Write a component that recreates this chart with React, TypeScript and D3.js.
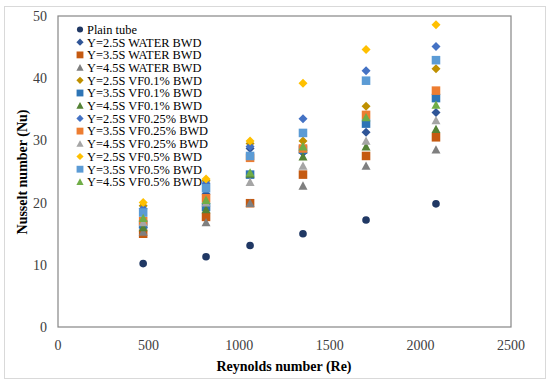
import React, { useRef, useEffect } from 'react';
import * as d3 from 'd3';

const reynolds = [470, 817, 1060, 1352, 1700, 2086];

const seriesNames = [
  'Plain tube',
  'Y=2.5S WATER BWD',
  'Y=3.5S WATER BWD',
  'Y=4.5S WATER BWD',
  'Y=2.5S VF0.1% BWD',
  'Y=3.5S VF0.1% BWD',
  'Y=4.5S VF0.1% BWD',
  'Y=2.5S VF0.25% BWD',
  'Y=3.5S VF0.25% BWD',
  'Y=4.5S VF0.25% BWD',
  'Y=2.5S VF0.5% BWD',
  'Y=3.5S VF0.5% BWD',
  'Y=4.5S VF0.5% BWD',
];

const seriesShapes = ['circle', 'diamond', 'square', 'triangle', 'diamond', 'square', 'triangle',
  'diamond', 'square', 'triangle', 'diamond', 'square', 'triangle'];

const seriesColors = ['#203864', '#2F5597', '#C55A11', '#7F7F7F', '#BF9000', '#2E75B6', '#548235',
  '#4472C4', '#ED7D31', '#A5A5A5', '#FFC000', '#5B9BD5', '#70AD47'];

// Nusselt number per series, one value per Reynolds number
const plainTube = [10.2, 11.3, 13.1, 15.0, 17.2, 19.8];
const y25Water = [16.0, 21.4, 28.7, 28.0, 31.3, 34.5];
const y35Water = [15.0, 17.7, 19.9, 24.5, 27.5, 30.5];
const y45Water = [15.3, 16.8, 19.9, 22.7, 25.9, 28.5];
const y25Vf01 = [19.5, 23.5, 29.5, 29.9, 35.5, 41.5];
const y35Vf01 = [16.5, 19.3, 24.5, 28.5, 32.7, 36.8];
const y45Vf01 = [16.0, 18.9, 24.6, 27.4, 29.0, 31.8];
const y25Vf025 = [19.0, 23.1, 29.0, 33.5, 41.2, 45.1];
const y35Vf025 = [17.0, 20.7, 27.2, 28.7, 34.1, 38.0];
const y45Vf025 = [16.8, 20.0, 23.3, 25.9, 29.9, 33.2];
const y25Vf05 = [20.0, 23.8, 29.9, 39.2, 44.6, 48.6];
const y35Vf05 = [18.4, 22.3, 27.5, 31.2, 39.6, 42.9];
const y45Vf05 = [17.5, 20.4, 24.8, 29.0, 33.7, 35.7];

const seriesValues = [plainTube, y25Water, y35Water, y45Water, y25Vf01, y35Vf01, y45Vf01,
  y25Vf025, y35Vf025, y45Vf025, y25Vf05, y35Vf05, y45Vf05];

const xTicks = [0, 500, 1000, 1500, 2000, 2500];
const yTicks = [0, 10, 20, 30, 40, 50];

const markerPath = (shape: string, s: number) => {
  if (shape === 'diamond') return `M0,${-s}L${s},0L0,${s}L${-s},0Z`;
  if (shape === 'square') { const h = s * 0.95; return `M${-h},${-h}H${h}V${h}H${-h}Z`; }
  if (shape === 'triangle') return `M0,${-s}L${s},${s * 0.85}H${-s}Z`;
  return d3.arc()({ innerRadius: 0, outerRadius: s * 0.85, startAngle: 0, endAngle: 2 * Math.PI }) as string;
};

const App = () => {
  const svgRef = useRef<SVGSVGElement | null>(null);

  useEffect(() => {
    const svg = d3.select(svgRef.current);
    svg.selectAll('*').remove();
    const font = '"Liberation Serif", "Times New Roman", serif';

    const x = d3.scaleLinear().domain([0, 2500]).range([58, 511]);
    const y = d3.scaleLinear().domain([0, 50]).range([327, 16]);

    svg.append('rect').attr('x', 4.5).attr('y', 6.5).attr('width', 541).attr('height', 372)
      .attr('fill', '#fff').attr('stroke', '#D9D9D9');

    svg.append('rect').attr('x', x(0)).attr('y', y(50)).attr('width', x(2500) - x(0))
      .attr('height', y(0) - y(50)).attr('fill', 'none').attr('stroke', '#868686').attr('stroke-width', 1.2);

    svg.append('g').selectAll('text').data(yTicks).enter().append('text')
      .attr('x', 47).attr('y', d => y(d)).attr('dy', '0.35em').attr('text-anchor', 'end')
      .attr('font-family', font).attr('font-size', 14).attr('fill', '#404040').text(d => d);

    svg.append('g').selectAll('text').data(xTicks).enter().append('text')
      .attr('x', d => x(d)).attr('y', 345).attr('dy', '0.35em').attr('text-anchor', 'middle')
      .attr('font-family', font).attr('font-size', 14).attr('fill', '#404040').text(d => d);

    svg.append('text').attr('x', 284).attr('y', 366).attr('dy', '0.35em').attr('text-anchor', 'middle')
      .attr('font-family', font).attr('font-size', 14).attr('font-weight', 'bold').attr('fill', '#000')
      .text('Reynolds number (Re)');

    svg.append('text').attr('transform', `translate(22,172) rotate(-90)`).attr('dy', '0.35em')
      .attr('text-anchor', 'middle').attr('font-family', font).attr('font-size', 14)
      .attr('font-weight', 'bold').attr('fill', '#000').text('Nusselt number (Nu)');

    // legend
    const legend = svg.append('g');
    seriesNames.forEach((name, i) => {
      const ly = 29.5 + i * 12.7;
      legend.append('path').attr('d', markerPath(seriesShapes[i], 3.6))
        .attr('transform', `translate(80,${ly})`).attr('fill', seriesColors[i]);
      legend.append('text').attr('x', 87).attr('y', ly).attr('dy', '0.35em')
        .attr('font-family', font).attr('font-size', 12.4).attr('fill', '#000').text(name);
    });

    // points
    seriesValues.forEach((vals, i) => {
      svg.append('g').selectAll('path').data(vals).enter().append('path')
        .attr('d', markerPath(seriesShapes[i], 4.5))
        .attr('transform', (d, j) => `translate(${x(reynolds[j])},${y(d)})`)
        .attr('fill', seriesColors[i]);
    });
  }, []);

  return (
    <svg ref={svgRef} width={550} height={384}
      style={{ position: 'absolute', left: 0, top: 0, background: '#fff' }} />
  );
};

export default App;
